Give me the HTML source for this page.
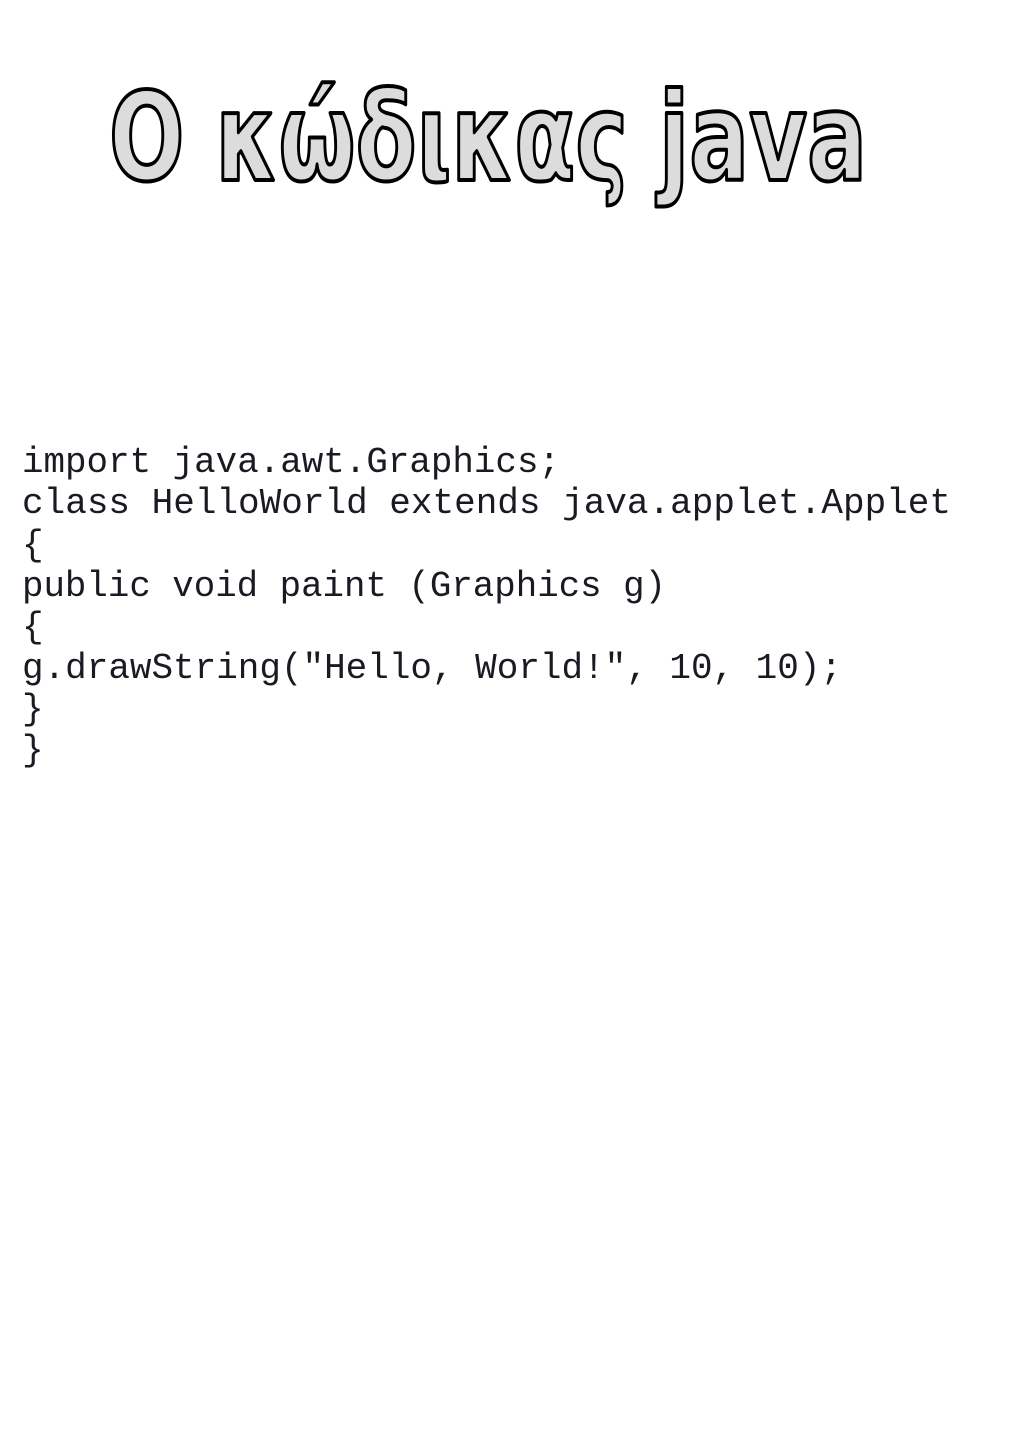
<!DOCTYPE html>
<html><head><meta charset="utf-8"><style>
html,body{margin:0;padding:0;background:#fff;}
svg{display:block;}
</style></head><body>
<svg width="1024" height="1448" viewBox="0 0 1024 1448" xmlns="http://www.w3.org/2000/svg">
<rect width="1024" height="1448" fill="#fff"/>
<text x="109" y="180" font-family="DejaVu Sans, Liberation Sans, sans-serif" font-weight="bold" font-size="122" fill="#dcdcdc" stroke="#000" stroke-width="4" stroke-linejoin="round" textLength="758" lengthAdjust="spacingAndGlyphs">Ο κώδικας java</text>
<g font-family="Liberation Mono, Courier New, monospace" font-size="36" fill="#1a1a22">
<text x="22" y="472" textLength="538" lengthAdjust="spacingAndGlyphs">import java.awt.Graphics;</text>
<text x="22" y="513" textLength="929" lengthAdjust="spacingAndGlyphs">class HelloWorld extends java.applet.Applet</text>
<text x="22" y="555">{</text>
<text x="22" y="596" textLength="644" lengthAdjust="spacingAndGlyphs">public void paint (Graphics g)</text>
<text x="22" y="637">{</text>
<text x="22" y="678" textLength="820" lengthAdjust="spacingAndGlyphs">g.drawString("Hello, World!", 10, 10);</text>
<text x="22" y="719">}</text>
<text x="22" y="760">}</text>
</g>
</svg>
</body></html>
